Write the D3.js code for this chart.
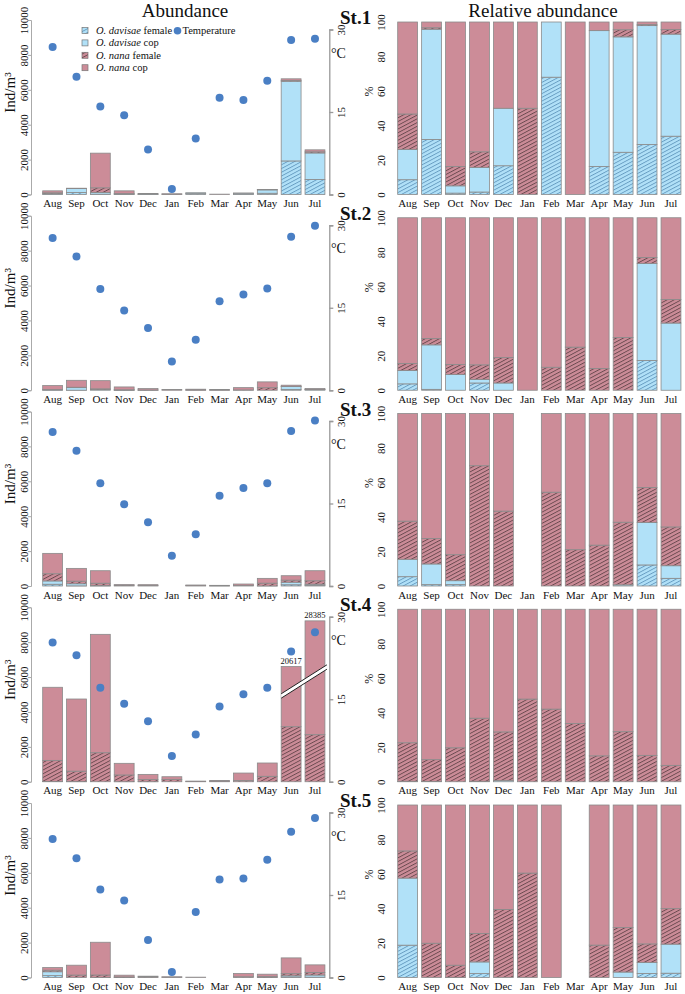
<!DOCTYPE html>
<html><head><meta charset="utf-8">
<script src="https://cdn.jsdelivr.net/npm/d3@7"></script>
<style>
body{margin:0;background:#fff}
svg{display:block}
text{font-family:"Liberation Serif","Times New Roman",serif;fill:#111}
</style>
</head><body>
<svg id="chart" width="685" height="994"></svg>
<script>
// ---------------- DATA ----------------
const months = ["Aug","Sep","Oct","Nov","Dec","Jan","Feb","Mar","Apr","May","Jun","Jul"];
const stations = ["St.1","St.2","St.3","St.4","St.5"];
const seriesNames = ["O. davisae female","O. davisae cop","O. nana female","O. nana cop"];
const abundanceTicks = [0,2000,4000,6000,8000,10000];
const percentTicks = [0,20,40,60,80,100];
const tempTicks = [0,15,30];

const st1DavFemale = [18,115,19,3,10,0,68,0,13,71,1923,865];
const st1DavCop    = [37,230,100,30,20,0,32,0,63,194,4568,1515];
const st1NanFemale = [43,3,265,19,0,20,0,0,0,12,40,67];
const st1NanCop    = [112,12,1986,158,30,20,0,20,4,13,99,113];
const st1Temp      = [26.8,21.4,16.0,14.4,8.2,1.0,10.2,17.6,17.2,20.7,28.1,28.3];

const st2DavFemale = [10,3,0,8,0,0,0,0,0,0,50,0];
const st2DavCop    = [21,147,50,4,4,0,0,0,0,0,163,37];
const st2NanFemale = [11,21,32,16,14,0,8,10,19,147,10,13];
const st2NanCop    = [228,399,468,162,77,40,52,30,131,333,67,45];
const st2Temp      = [27.7,24.3,18.4,14.5,11.3,5.25,9.2,16.2,17.4,18.5,27.9,29.9];

const st3DavFemale = [101,8,7,0,0,0,0,0,0,0,72,39];
const st3DavCop    = [189,121,20,0,0,0,0,0,0,3,145,64];
const st3NanFemale = [413,149,132,53,33,0,31,8,27,159,120,197];
const st3NanCop    = [1167,732,717,23,43,0,26,30,87,276,253,576];
const st3Temp      = [28.0,24.6,18.7,14.85,11.6,5.5,9.4,16.4,17.8,18.7,28.2,30.1];

const st4DavFemale = [8,5,0,0,0,0,0,0,0,0,0,0];
const st4DavCop    = [8,5,0,3,3,0,0,0,0,0,0,0];
const st4NanFemale = [1208,597,1664,386,119,138,16,26,75,312,3154,2697];
const st4NanCop    = [4190,4135,6784,667,300,150,22,51,424,763,17463,25688];
const st4Temp      = [25.3,23.0,17.1,14.2,11.0,4.7,8.6,13.7,15.9,17.1,23.7,27.2];
// broken bars at St.4 (display ceiling, Ind/m3) and axis-break line (Ind/m3 at Jun left -> Jul right)
const st4DisplayTop = [null,null,null,null,null,null,null,null,null,null,6600,9220];
const st4BreakFrom = 4915, st4BreakTo = 6575;

const st5DavFemale = [107,0,1,3,0,0,0,0,0,0,26,18];
const st5DavCop    = [222,0,0,9,0,0,0,0,0,6,72,122];
const st5NanFemale = [90,140,143,22,30,23,0,0,43,49,121,149];
const st5NanCop    = [152,565,1876,99,46,15,19,0,186,135,905,435];
const st5Temp      = [25.2,21.7,16.0,14.0,6.8,1.0,11.9,17.8,18.0,21.4,26.5,29.0];

const davFemale = [st1DavFemale,st2DavFemale,st3DavFemale,st4DavFemale,st5DavFemale];
const davCop    = [st1DavCop,st2DavCop,st3DavCop,st4DavCop,st5DavCop];
const nanFemale = [st1NanFemale,st2NanFemale,st3NanFemale,st4NanFemale,st5NanFemale];
const nanCop    = [st1NanCop,st2NanCop,st3NanCop,st4NanCop,st5NanCop];
const temps     = [st1Temp,st2Temp,st3Temp,st4Temp,st5Temp];
const displayTop = [null,null,null,st4DisplayTop,null];

// ---------------- STYLE ----------------
const PINK = "#cc8c98", BLUE = "#b1e1f8", DOT = "#4a7fc4", EDGE = "#8a8a8a";
const keys = ["df","dc","nf","nc"];
const fills = {df:"url(#hatchBlue)", dc:BLUE, nf:"url(#hatchPink)", nc:PINK};

const svg = d3.select("#chart");
const defs = svg.append("defs");
function hatch(id, bg, line){
  const p = defs.append("pattern").attr("id",id).attr("patternUnits","userSpaceOnUse")
    .attr("width",8).attr("height",3.3).attr("patternTransform","rotate(-28)");
  p.append("rect").attr("width",8).attr("height",3.3).attr("fill",bg);
  p.append("line").attr("x1",0).attr("x2",8).attr("y1",0.5).attr("y2",0.5)
    .attr("stroke",line).attr("stroke-width",0.75);
}
hatch("hatchBlue", BLUE, "#4f86b0");
hatch("hatchPink", PINK, "#4a3438");

const rowBase = i => 194.5 + i*195.75;
const xL = d3.scaleBand().domain(months).range([40.7,326.9]).paddingInner(0.1667).paddingOuter(0.0833);
const xR = d3.scaleBand().domain(months).range([395.7,683]).paddingInner(0.1667).paddingOuter(0.0833);
const bw = xL.bandwidth();

// titles
svg.append("text").attr("x",185).attr("y",17).attr("text-anchor","middle").attr("font-size",19).text("Abundance");
svg.append("text").attr("x",543).attr("y",17).attr("text-anchor","middle").attr("font-size",19).text("Relative abundance");

stations.forEach((st, r) => {
  const base = rowBase(r);
  const yA = d3.scaleLinear().domain([0,10000]).range([base, base-174.5]);
  const yT = d3.scaleLinear().domain([0,30]).range([base, base-165]);
  const yP = d3.scaleLinear().domain([0,1]).range([base, base-172.5]);
  const yPt = d3.scaleLinear().domain([0,100]).range([base, base-172.5]);

  const table = months.map((m,i)=>({month:m, df:davFemale[r][i], dc:davCop[r][i], nf:nanFemale[r][i], nc:nanCop[r][i]}));
  const stacked = d3.stack().keys(keys)(table);
  const caps = displayTop[r];

  // ---- left: abundance ----
  const gL = svg.append("g");
  stacked.forEach(layer => {
    layer.forEach((d,i) => {
      let v0 = d[0], v1 = d[1];
      if (caps && caps[i] != null) { v0 = Math.min(v0, caps[i]); v1 = Math.min(v1, caps[i]); }
      if (v1 - v0 <= 0) return;
      gL.append("rect").attr("x", xL(months[i])).attr("width", bw)
        .attr("y", yA(v1)).attr("height", Math.max(0, yA(v0)-yA(v1)))
        .attr("fill", fills[layer.key]).attr("stroke", EDGE).attr("stroke-width",0.8);
    });
  });

  // broken bars
  if (caps) {
    const xa = xL("Jun"), xb = xL("Jul") + bw + 2;
    const ya = yA(st4BreakFrom), yb = yA(st4BreakTo);
    const h = 2.2;
    gL.append("path").attr("d", `M${xa},${ya-h}L${xb},${yb-h}L${xb},${yb+h}L${xa},${ya+h}Z`).attr("fill","#fff");
    [-h, h].forEach(o => gL.append("line").attr("x1",xa).attr("y1",ya+o).attr("x2",xb).attr("y2",yb+o)
      .attr("stroke","#222").attr("stroke-width",1));
    caps.forEach((c,i) => {
      if (c == null) return;
      const total = table[i].df + table[i].dc + table[i].nf + table[i].nc;
      gL.append("text").attr("x", xL(months[i]) + bw/2).attr("y", yA(c) - 3)
        .attr("text-anchor","middle").attr("font-size",8.5).text(total);
    });
  }

  // left axis
  const axL = svg.append("g").attr("transform","translate(31,0)")
    .call(d3.axisLeft(yA).tickValues(abundanceTicks).tickSize(3).tickFormat(d3.format("d")));
  axL.select(".domain").attr("stroke","#aaa");
  axL.selectAll(".tick line").attr("stroke","#aaa");
  axL.selectAll(".tick text").attr("x",0).attr("dy",0).attr("y",0)
    .attr("text-anchor","middle").attr("transform","translate(-3,0) rotate(-90)")
    .attr("font-size",11).attr("font-family","Liberation Serif, serif").attr("fill","#111");

  // temperature axis
  const axT = svg.append("g").attr("transform","translate(329.3,0)")
    .call(d3.axisRight(yT).tickValues(tempTicks).tickSize(4));
  axT.select(".domain").attr("stroke","#999").attr("stroke-width",1.3);
  axT.selectAll(".tick line").attr("stroke","#999").attr("stroke-width",1.3);
  axT.selectAll(".tick text").attr("x",0).attr("dy",0).attr("y",0)
    .attr("text-anchor","middle").attr("transform","translate(15.5,0) rotate(-90)")
    .attr("font-size",11).attr("font-family","Liberation Serif, serif").attr("fill","#111");
  svg.append("text").attr("x",331).attr("y",base-137).attr("font-size",14).text("°C");

  // y label
  svg.append("text").attr("transform",`translate(15,${base-102}) rotate(-90)`).attr("text-anchor","middle")
    .attr("font-size",15).text("Ind/m³");

  // temperature dots
  svg.append("g").selectAll("circle").data(temps[r]).join("circle")
    .attr("cx",(d,i)=>xL(months[i])+bw/2).attr("cy",d=>yT(d)).attr("r",4).attr("fill",DOT);

  // month labels
  [xL, xR].forEach(x => {
    svg.append("g").selectAll("text").data(months).join("text")
      .attr("x", m => x(m)+bw/2).attr("y", base+12.5).attr("text-anchor","middle")
      .attr("font-size",11).text(m=>m);
  });

  // station label
  svg.append("text").attr("x",340).attr("y",base-170.5).attr("font-size",19).attr("font-weight","bold").text(st);

  // ---- right: relative abundance ----
  const rel = d3.stack().keys(keys).offset(d3.stackOffsetExpand)(table);
  const gR = svg.append("g");
  rel.forEach(layer => {
    layer.forEach((d,i) => {
      if (!isFinite(d[0]) || !isFinite(d[1])) return;
      if (d[1] - d[0] <= 0) return;
      gR.append("rect").attr("x", xR(months[i])).attr("width", bw)
        .attr("y", yP(d[1])).attr("height", yP(d[0]) - yP(d[1]))
        .attr("fill", fills[layer.key]).attr("stroke", EDGE).attr("stroke-width",0.8);
    });
  });
  const axP = svg.append("g").attr("transform","translate(389,0)")
    .call(d3.axisLeft(yPt).tickValues(percentTicks).tickSize(0));
  axP.select(".domain").remove();
  axP.selectAll(".tick text").attr("x",0).attr("dy",0).attr("y",0)
    .attr("text-anchor","middle").attr("transform","translate(-4,0) rotate(-90)")
    .attr("font-size",11).attr("font-family","Liberation Serif, serif").attr("fill","#111");
  svg.append("text").attr("transform",`translate(373,${base-103}) rotate(-90)`).attr("text-anchor","middle")
    .attr("font-size",12).text("%");
});

// ---------------- LEGEND ----------------
const leg = svg.append("g");
const legFills = [fills.df, fills.dc, fills.nf, fills.nc];
const legSpecies = ["O. davisae","O. davisae","O. nana","O. nana"];
const legSuffix = [" female"," cop"," female"," cop"];
seriesNames.forEach((n,i) => {
  const y = 30.5 + i*12.4;
  leg.append("rect").attr("x",82).attr("y",y-3).attr("width",6).attr("height",6)
    .attr("fill",legFills[i]).attr("stroke","#777").attr("stroke-width",0.7);
  const t = leg.append("text").attr("x",96).attr("y",y+3.5).attr("font-size",10.5);
  t.append("tspan").attr("font-style","italic").text(legSpecies[i]);
  t.append("tspan").text(legSuffix[i]);
});
leg.append("circle").attr("cx",177.5).attr("cy",30.7).attr("r",3.8).attr("fill",DOT);
leg.append("text").attr("x",182.5).attr("y",34).attr("font-size",10.5).text("Temperature");
</script>
</body></html>
